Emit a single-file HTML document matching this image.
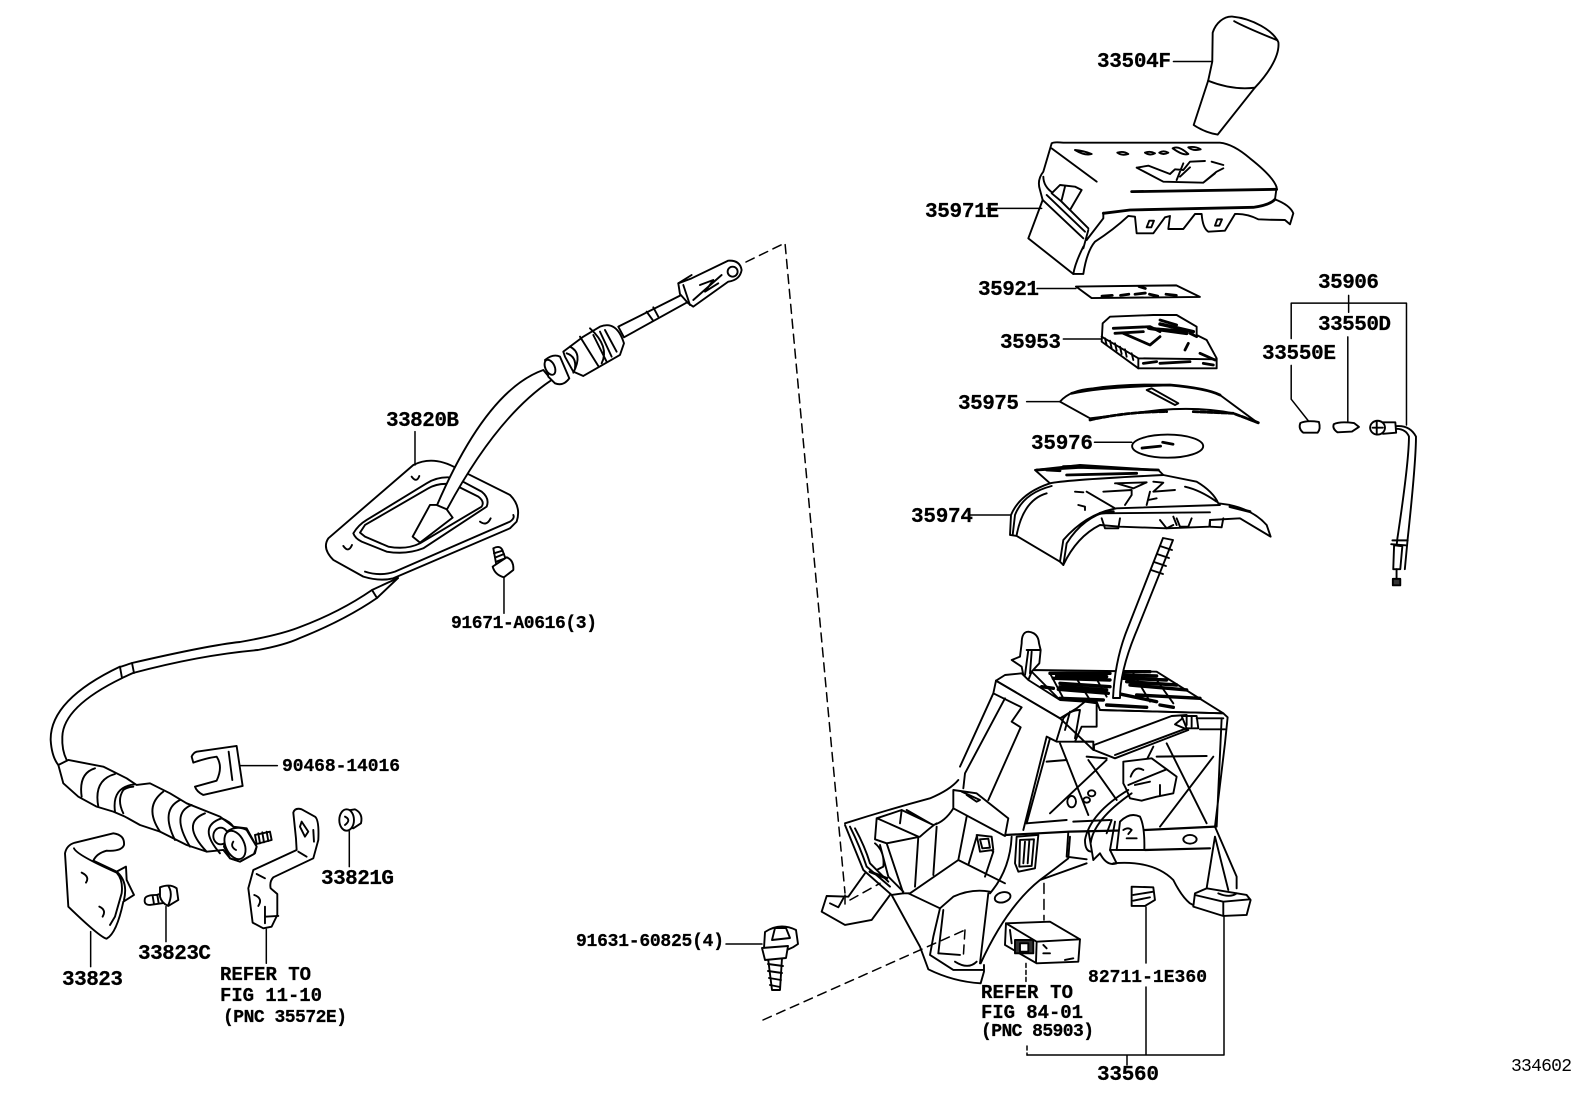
<!DOCTYPE html>
<html><head><meta charset="utf-8"><style>
html,body{margin:0;padding:0;background:#fff}
svg{display:block}
path,ellipse,circle,line,polyline,polygon,rect{vector-effect:non-scaling-stroke;stroke:#000;stroke-width:1.9;fill:#fff;stroke-linejoin:round;stroke-linecap:round}
.n{fill:none}
.b{fill:#000}
.h{fill:none;stroke-width:2.8}
.l{fill:none;stroke-width:1.5}
.d{fill:none;stroke-width:1.5;stroke-dasharray:9 6}
text{font-family:"Liberation Mono",monospace;font-weight:bold;fill:#000;stroke:#000;stroke-width:.25}
.a{font-size:21px}.c{font-size:18px}.r{font-size:19px}
.t{font-size:18px;font-weight:normal;stroke:none}
</style></head><body>
<svg xmlns="http://www.w3.org/2000/svg" width="1592" height="1099" viewBox="0 0 1592 1099">
<rect x="0" y="0" width="1592" height="1099" style="stroke:none"/>

<!-- dashed guide line top -->
<path class="d" d="M746 262L785 243L845 893"/>

<!-- cable top and plate -->
<g transform="translate(300,220) scale(.3333)">
<path d="M340 735Q400 705 470 745L630 825Q665 860 650 905L630 925L280 1075Q240 1085 190 1070L100 1020Q65 985 85 955Z"/>
<path d="M160 940Q175 915 200 900L380 790Q420 765 470 775L545 815Q570 835 560 860L370 985Q320 1005 260 995L185 965Q165 955 160 940Z"/>
<path class="n" d="M180 938L195 915L385 805Q420 785 465 795L535 830Q555 845 545 860L360 970Q320 990 265 980L195 950Z"/>
<path class="n" d="M195 1055Q240 1070 285 1055L630 905Q645 895 640 885"/>
<path class="n" d="M335 770Q350 790 358 768M130 978Q145 1000 156 975M540 905Q560 920 572 895"/>
<path d="M410 858Q560 510 730 450L755 480Q590 590 440 870Z"/>
<path d="M390 855L410 855L440 868L458 893L360 968L338 950Z"/>
<path d="M735 420Q760 400 780 410L808 475Q790 500 765 490L745 470Z"/>
<ellipse cx="750" cy="442" rx="14" ry="24" transform="rotate(-25 750 442)"/>
<path d="M790 395L850 350L900 320Q950 300 972 370L960 405L850 468L820 455L795 410Z"/>
<path class="n" d="M840 350L895 438M870 325Q930 380 905 430M880 345L920 425M900 335L935 410M915 330L950 395"/>
<path class="n" d="M800 400Q830 410 825 445M810 380Q850 400 820 458"/>
<path d="M955 320L1150 222L1165 245L972 352Z"/>
<path class="n" d="M1040 275L1058 300M1060 262L1075 290"/>
<path d="M1135 190L1175 175L1285 122Q1320 120 1325 150Q1320 180 1285 185L1180 260L1165 250L1140 222Z"/>
<circle cx="1298" cy="155" r="15"/>
<path class="n" d="M1180 240L1265 165M1200 195L1240 180L1215 215L1255 190"/>
<path class="n" d="M1135 190L1175 165M1150 195L1170 255"/>
<path class="l" d="M345 635L345 735"/>
<path d="M580 985Q600 975 607 990L622 1030L590 1040Z"/>
<path class="n" d="M582 1000L608 992M588 1012L612 1002M592 1024L618 1014"/>
<path d="M578 1040L620 1012Q642 1020 640 1050L612 1072Q585 1065 578 1040Z"/>
<path class="l" d="M612 1075L612 1180"/>
</g>

<!-- cable middle -->
<path class="n" d="M120 667L132 663Q210 645 240 642Q280 635 300 627Q340 612 372 590L398 578"/>
<path class="n" d="M122 678L133 673Q200 655 258 650Q285 645 300 638Q345 620 377 598L398 578"/>
<path class="n" d="M372 590L377 598M120 667L122 678M132 663L134 673"/>

<!-- lower left -->
<g transform="translate(0,650) scale(.3333)">
<path class="n" d="M360 50Q150 150 152 270Q155 320 175 345"/>
<path class="n" d="M365 85Q190 170 187 260Q185 300 200 330"/>
<path d="M175 345L205 330L310 350L380 385L410 405L450 400L510 430L560 460L660 500L700 530L740 535L770 590L765 610L720 635L690 625L670 600L620 605L560 585L480 545L420 525L375 500L340 485L290 470L235 440L190 400Z"/>
<path class="n" d="M245 440Q235 370 285 355M295 470Q280 390 345 372M345 485Q335 410 405 403M370 490Q350 450 370 420Q385 410 400 410"/>
<path class="n" d="M480 545Q430 470 490 425M525 570Q480 480 540 450M570 590Q510 490 575 465M620 605Q540 520 615 490M660 610Q590 530 665 505Q690 515 700 530"/>
<path d="M680 545Q710 525 740 540L770 590L762 612L720 635L690 625L672 590Z"/>
<ellipse cx="662" cy="558" rx="22" ry="25"/>
<ellipse cx="705" cy="585" rx="28" ry="45" transform="rotate(-25 705 585)"/>
<path class="n" d="M700 575Q690 590 708 600"/>
<path d="M765 555L810 545L815 570L770 582Z"/>
<path class="n" d="M775 550L780 580M787 547L792 577M800 545L805 573"/>
<path d="M575 320Q580 308 590 305L710 288L728 408L610 435Q590 425 585 410L650 392Q670 350 650 320Q615 325 580 338Z"/>
<path class="n" d="M686 305L697 390"/>
<path class="l" d="M720 347L832 347"/>
<path d="M195 610Q200 585 225 578L340 550Q375 555 372 585Q365 605 320 602Q290 610 280 632L350 665L378 650L380 690L402 735L370 755Q350 850 320 866Q300 862 205 770Z"/>
<path class="n" d="M222 595Q230 615 350 668Q370 690 365 730L345 800L330 825M350 665Q385 695 372 750"/>
<path class="n" d="M245 668Q270 680 258 698M298 770Q320 780 308 800"/>
<path class="l" d="M272 845L272 950"/>
<path d="M435 745Q440 735 470 735L485 730L498 758L450 765Q430 765 435 745Z"/>
<path class="n" d="M458 738L462 762M472 735L476 760M486 732L490 757"/>
<path d="M480 712Q510 700 530 715L535 750L505 768Q485 760 480 740Z"/>
<path class="n" d="M505 708Q520 730 505 765"/>
<path class="l" d="M498 770L498 875"/>
<path d="M880 488Q885 472 905 478L945 500Q958 510 955 570L940 625L820 682Q808 695 812 715L832 732L832 795L815 830L790 835L758 818L745 715L760 660L890 600L888 565Z"/>
<path class="n" d="M905 515L925 545L915 560L900 530ZM940 540L942 575M895 605L920 620M770 672L795 685"/>
<path class="n" d="M763 735Q790 745 775 768M795 770L795 820M795 800L835 798"/>
<path class="l" d="M799 838L799 940"/>
<path d="M1040 482L1065 478Q1090 490 1083 520L1060 535L1040 530Z"/>
<ellipse cx="1040" cy="510" rx="22" ry="32"/>
<path class="n" d="M1035 500Q1055 510 1035 525"/>
<path class="l" d="M1048 545L1048 650"/>
</g>

<!-- knob and small parts -->
<g transform="translate(947,0) scale(.4132,.3846)">
<path d="M643 85C650 60 670 42 690 43C740 48 790 80 802 110C806 150 770 200 745 228L655 350Q625 345 597 325L632 210L642 160Z"/>
<path class="n" d="M632 210Q690 235 745 228M695 55Q720 70 800 105"/>
<path class="l" d="M548 160L642 160"/>
<path d="M312 745L555 742L612 772L350 775Z"/>
<path class="h" d="M375 770L400 768M420 768L440 765M455 765L480 762M490 765L510 770M530 765L555 768M465 745L480 750"/>
<path class="l" d="M218 750L312 750"/>
<ellipse cx="534" cy="1160" rx="86" ry="30"/>
<path class="h" d="M472 1165L517 1160M522 1150L547 1155"/>
<path class="l" d="M357 1150L447 1150"/>
<path class="l" d="M833 788L1112 788L1112 1105M972 768L972 812M833 788L833 880M833 950L833 1038L875 1095M970 876L970 1095"/>
<path d="M855 1100Q870 1092 900 1097Q905 1115 897 1125L862 1125Q850 1115 855 1100Z"/>
<path d="M936 1103Q950 1095 985 1100L997 1110L980 1122L945 1124Q932 1115 936 1103Z"/>
<path d="M1055 1098L1085 1098L1087 1125L1055 1128Z"/>
<circle cx="1042" cy="1112" r="18"/>
<path class="n" d="M1040 1095L1040 1130M1030 1112L1055 1112"/>
<path class="n" d="M1087 1108Q1120 1105 1135 1135Q1135 1200 1115 1400L1108 1480"/>
<path class="n" d="M1087 1115Q1110 1115 1118 1135Q1118 1200 1090 1400L1082 1480"/>
<path class="n" d="M1078 1405L1115 1405M1075 1415L1110 1418"/>
<path d="M1082 1418L1102 1420L1097 1480L1080 1480Z"/>
<rect x="1079" y="1505" width="18" height="17" style="fill:#333"/>
<path class="n" d="M1088 1480L1088 1505"/>
</g>

<!-- 35971E bezel -->
<g transform="translate(1020,130) scale(.3333)">
<path d="M95 40Q100 35 130 38L600 38Q640 42 690 85Q760 140 770 172L765 208Q810 225 820 250L810 283L795 270Q760 270 715 268Q680 250 645 252L615 302L565 305Q548 295 545 252L525 252L490 297L445 297L450 258L435 262L400 310L350 310L345 260L325 258Q280 300 225 335Q200 365 190 432L160 432L25 325L68 210L60 180Q50 150 70 125Z"/>
<path class="n" d="M95 55L230 155M70 140Q70 170 100 190L205 295M68 210L190 325M80 195L195 305M190 355L205 300M160 432Q165 400 190 350M200 330L250 265L250 248"/>
<path class="h" d="M335 185L770 178M250 250Q290 245 330 240L700 232Q750 225 765 208"/>
<path d="M95 190L120 165L165 170L185 180L150 240L125 215Z"/>
<path class="n" d="M135 170L125 210"/>
<path class="n" d="M165 60Q190 62 215 72Q195 78 165 60ZM292 68Q310 62 325 72Q305 78 292 68ZM375 68Q390 62 405 70Q390 78 375 68ZM418 68Q430 60 445 68Q430 76 418 68ZM458 55Q475 45 505 72Q490 78 458 55ZM505 52Q525 48 542 58Q520 64 505 52Z"/>
<path class="n" d="M350 113L385 107L450 132L465 118L490 120L510 95L555 93M350 113L430 155L550 158L590 125L610 115M490 100L470 150M510 112L480 140M550 158L585 130M575 95L610 105"/>
<path class="n" d="M380 292L388 272L402 272L394 292ZM585 287L592 268L606 268L598 287Z"/>
<path class="l" d="M-100 235L65 235"/>
</g>

<!-- 35953 / 35975 -->
<g transform="translate(1060,300) scale(.3333)">
<path d="M128 70L150 50L280 45L350 45L410 80L410 105L440 120L470 175L470 205L435 205L235 205L125 125Z"/>
<path class="n" d="M125 110L235 175L470 178M235 175L235 205"/>
<path class="n" d="M135 115L140 135M150 122L155 145M165 130L170 152M180 140L185 162M195 148L200 170M215 160L220 180"/>
<path class="h" d="M160 85L270 80L300 95M265 85L400 95M165 100L250 95M190 100L270 135L300 110M300 60L350 75M250 190L290 185M300 190L390 185M390 100L410 110M375 150L385 130M420 160L465 180M430 190L460 195"/>
<path class="h" style="stroke-width:3.5" d="M300 72L400 95M270 85L380 100"/>
<path class="l" d="M10 117L125 117"/>
<path d="M0 305Q30 270 100 265Q200 250 330 255Q440 265 480 285L595 370L520 340Q420 320 300 330L90 355Z"/>
<path class="h" d="M35 280Q120 260 330 255Q440 265 480 285"/>
<path class="n" d="M260 270L275 265L355 310L345 315Z"/>
<path class="h" style="stroke-dasharray:5 2" d="M90 360Q200 335 320 335M400 335L520 340L595 368"/>
<path class="l" d="M-100 305L0 305"/>
</g>

<!-- 35974 -->
<g transform="translate(1000,450) scale(.3333)">
<path d="M105 60L240 45L475 60L490 75L590 95Q640 125 655 160L690 165Q760 180 800 225L812 260L720 205L630 210L628 230L500 235L360 230L300 225Q230 260 190 345L180 335L50 258L30 255L33 195Q60 130 150 100Z"/>
<path class="n" d="M150 100Q190 90 490 75M155 108Q70 130 45 195L38 255M140 130Q70 150 50 255M660 165L350 175Q260 190 190 270L180 335M330 182Q250 200 200 280L190 345M300 190L630 187"/>
<path class="h" d="M110 60L240 52L475 60M190 50L245 48M140 60L180 62M200 75L410 70M690 170L750 185M300 190L340 185"/>
<path class="n" d="M225 125L250 127M260 125L345 175M310 125L395 120L395 135L375 165M345 100L440 97L400 115L350 100M460 95L490 98L460 125L525 120M450 125L440 165M445 150L470 145M235 165L255 170L255 180M555 110Q600 120 650 155"/>
<path class="n" d="M305 205L315 235L355 235L360 205M480 210L500 235L520 225M530 205L540 230L565 230L575 205M630 210L630 230L665 232L670 205M520 200L530 225"/>
<path class="l" d="M-90 195L30 195"/>
</g>

<!-- stalk and main bracket upper -->
<g transform="translate(960,630) scale(.3333)">
<path class="n" d="M210 120L590 125L790 250L420 240L410 215L300 210Z"/>
<path class="h" style="stroke-width:3.4" d="M270 130L450 130M280 145L450 150M300 160L450 170M295 178L445 190M245 170L280 175M490 125L570 125M490 145L620 150M510 165L680 180M530 195L720 205M470 190L590 215M300 205L430 210M440 225L560 232M600 225L640 232M290 138L440 140M480 135L590 138M300 170L440 180M500 155L650 165"/>
<path class="n" d="M270 130L310 205M340 130L390 210M400 130L440 200M520 130L570 215M590 150L640 220"/>
<path d="M185 40Q185 5 205 5Q235 8 237 40L242 60L238 100L215 125L205 150L190 135L185 110L155 90L180 80Z"/>
<path class="n" d="M200 60L240 60M205 60L195 135M215 65L210 130"/>
<path d="M108 152L135 135L185 130L205 150L300 210L375 215L410 220L410 290L365 290L345 335L400 335L400 360L300 265Z"/>
<path class="n" d="M108 152L300 265L350 235L375 215M108 152L100 190L185 232L155 275L182 292L85 510M100 190L0 410M135 205L15 430L10 475"/>
<path class="n" d="M290 330L310 265Q330 240 360 240L345 325M330 245L315 300"/>
<path class="n" d="M260 320L190 600M270 325L200 580M260 320L290 335L400 335"/>
<path class="n" d="M420 240L790 250L803 262L795 340L765 590M785 265L770 590"/>
<path class="n" d="M300 340L385 555M440 390L270 550M385 390L470 510M620 340L740 580M760 380L600 590M580 350L560 390"/>
<path class="h" style="stroke-width:2" d="M260 395L320 390M380 380L440 385M590 380L740 378M200 580L320 570M340 575L450 570"/>
<path d="M402 345L635 258L680 255L645 283L685 300L465 385L402 360Z"/>
<path class="n" d="M465 375L680 295"/>
<path d="M665 258L710 258L715 295L680 295Z"/>
<path class="n" d="M680 258L680 285M695 260L695 290M710 265L790 265M720 298L795 298"/>
<path d="M490 395L575 385L620 418L650 440L640 490L590 500L545 512L510 505L500 480L490 460Z"/>
<path class="n" d="M505 465L590 430L620 418M525 465L570 455M600 465L600 495M512 440Q525 405 550 420"/>
<ellipse cx="335" cy="515" rx="13" ry="17"/>
<ellipse cx="395" cy="490" rx="11" ry="9"/>
<ellipse cx="380" cy="510" rx="10" ry="8"/>
<path class="h" style="stroke-width:2.2" d="M135 615L235 610L330 605L555 600L765 590M555 660L750 655"/>
<path class="n" d="M450 660L555 660M465 575L450 660M325 605L320 680L380 688M455 570L440 610"/>
<path d="M470 660L480 575Q510 545 540 560Q555 590 553 660Z"/>
<path class="n" d="M490 600Q505 590 515 600L505 612M500 625L530 625"/>
<path class="n" d="M505 480Q390 550 375 630Q375 665 395 665M515 490Q400 570 392 640M385 600L400 690"/>
<path class="n" d="M400 690L420 670Q440 710 470 700L450 660"/>
<ellipse cx="690" cy="628" rx="20" ry="13"/>
<path d="M170 620L235 615L225 715L175 725L165 700Z"/>
<path class="n" d="M180 630L178 710L215 708L222 628ZM195 635L190 700M208 632L203 700"/>
</g>
<path d="M1163 538L1127 630Q1115 660 1113 698L1120 698Q1120 670 1137 630L1173 540Z"/>
<path class="n" d="M1160 546L1172 550M1157 554L1169 558M1154 562L1166 566M1151 570L1163 574"/>

<!-- main bracket lower -->
<g transform="translate(820,780) scale(.3333)">
<path class="n" d="M75 130Q200 90 330 55Q390 30 415 0"/>
<path d="M400 30L470 40L565 115L555 168L400 85Z"/>
<path class="n" d="M425 35L480 60L470 65L440 45"/>
<path class="n" d="M170 115L245 90L340 135Q375 125 400 85M170 115L165 178L200 190L250 340L270 340L415 240L555 310M245 90L240 130M260 90L330 130M172 115L295 170M200 190L300 170Q340 135 350 130M295 170L285 320M350 140L340 285M440 110L415 240L445 255L470 170M470 170L520 215L495 290M575 170Q570 270 510 340"/>
<path d="M470 165L515 170L520 210L480 215Z"/>
<path class="n" d="M480 178L505 176L510 203L487 205Z"/>
<path class="n" d="M510 335Q455 325 400 350L360 385L265 340"/>
<path class="n" d="M360 385L340 470L330 525L400 570L490 570M370 390L355 520M505 340L480 550M492 555L492 575L482 610Q400 605 325 568L300 500L215 345"/>
<path class="n" d="M355 520L420 525M405 545Q445 570 470 545"/>
<path class="n" d="M75 135L130 270L215 345L250 340M90 140Q120 200 140 260L210 320M105 145Q135 200 150 250L205 305M165 190Q195 215 190 260L170 270M180 195L205 290L250 335"/>
<path class="h" d="M150 275L200 295"/>
<path class="n" d="M135 280L85 350L20 348L5 395L75 435L155 420L210 345"/>
<path class="n" d="M30 370L55 382L70 355"/>
<ellipse cx="548" cy="352" rx="24" ry="15" transform="rotate(-15 548 352)"/>
<path class="n" d="M482 550Q560 380 660 300L800 250M660 300Q700 270 745 235L750 170M880 250Q1000 240 1060 300Q1085 350 1110 370L1125 378"/>
<path d="M1125 340L1160 325L1280 345L1292 360L1280 405L1210 408L1120 380Z"/>
<path class="n" d="M1125 345L1210 365L1290 358M1210 365L1210 405M1195 340Q1230 355 1250 340"/>
<path class="n" d="M1185 140L1250 290L1250 325M1160 325L1185 170M1185 170L1225 330"/>
<path d="M935 320L1000 322L1005 360L975 378L935 378Z"/>
<path class="n" d="M940 345L1000 335M940 362L990 352"/>
<path d="M558 430L690 425L780 478L775 545L650 550L555 495Z"/>
<path class="n" d="M558 430L650 485L780 478M650 485L648 548M570 450L575 490"/>
<rect x="585" y="480" width="55" height="40" style="fill:#333"/>
<rect x="600" y="490" width="25" height="25" style="fill:#fff"/>
<path class="n" d="M670 495L680 505M670 520L690 520M735 540L760 535"/>
<path class="l" style="stroke-dasharray:10 6" d="M672 310L672 420"/>
<path class="l" style="stroke-dasharray:4 3" d="M618 550L618 605"/>
<path class="d" d="M75 345L75 380M90 360L180 310M435 450L430 530"/>
</g>
<path class="d" d="M763 1020L965 930"/>

<!-- bottom bracket leaders -->
<path class="l" d="M1146 907L1146 963M1146 987L1146 1055M1224 916L1224 1055M1027 1055L1224 1055M1127 1055L1127 1065"/>
<path class="l" style="stroke-dasharray:4 3" d="M1027 1046L1027 1055"/>

<!-- bolt 91631 -->
<path class="l" d="M726 944L762 944"/>
<path d="M765 932Q780 922 796 930L798 944Q782 956 764 948Z"/>
<path d="M775 928L786 928L790 938L772 940Z"/>
<path d="M768 958L782 958L780 990L772 990Z"/>
<path class="n" d="M768 964L783 966M768 971L782 973M769 978L781 980M770 985L780 987"/>
<path d="M762 948L788 946L786 958L765 960Z"/>

<!-- labels -->
<text class="a" x="1097" y="67" textLength="74">33504F</text>
<text class="a" x="925" y="217" textLength="74">35971E</text>
<text class="a" x="978" y="295" textLength="61">35921</text>
<text class="a" x="1000" y="348" textLength="61">35953</text>
<text class="a" x="958" y="409" textLength="61">35975</text>
<text class="a" x="1031" y="449" textLength="62">35976</text>
<text class="a" x="911" y="522" textLength="62">35974</text>
<text class="a" x="1318" y="288" textLength="61">35906</text>
<text class="a" x="1318" y="330" textLength="73">33550D</text>
<text class="a" x="1262" y="359" textLength="74">33550E</text>
<text class="a" x="386" y="426" textLength="73">33820B</text>
<text class="c" x="451" y="628" textLength="146">91671-A0616(3)</text>
<text class="c" x="282" y="771" textLength="118">90468-14016</text>
<text class="a" x="321" y="884" textLength="73">33821G</text>
<text class="a" x="138" y="959" textLength="73">33823C</text>
<text class="a" x="62" y="985" textLength="61">33823</text>
<text class="r" x="220" y="980" textLength="91">REFER TO</text>
<text class="r" x="220" y="1001" textLength="102">FIG 11-10</text>
<text class="c" x="223" y="1022" textLength="124">(PNC 35572E)</text>
<text class="c" x="576" y="946" textLength="148">91631-60825(4)</text>
<text class="c" x="1088" y="982" textLength="119">82711-1E360</text>
<text class="r" x="981" y="998" textLength="92">REFER TO</text>
<text class="r" x="981" y="1018" textLength="102">FIG 84-01</text>
<text class="c" x="981" y="1036" textLength="113">(PNC 85903)</text>
<text class="a" x="1097" y="1080" textLength="62">33560</text>
<text class="t" x="1511" y="1071" textLength="61">334602</text>
</svg>
</body></html>
